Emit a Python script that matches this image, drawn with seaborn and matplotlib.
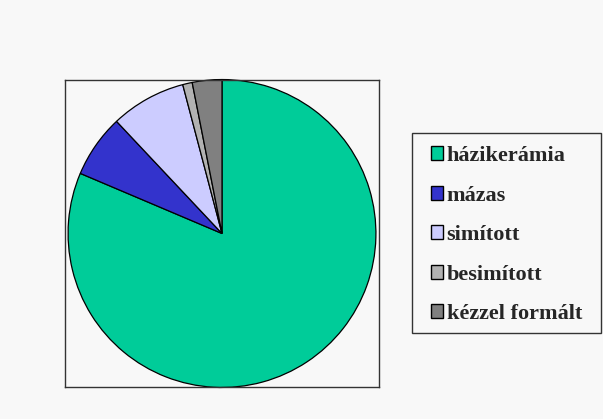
import matplotlib
matplotlib.use("Agg")
import matplotlib.pyplot as plt
from matplotlib.patches import Rectangle
import seaborn as sns

# Kerámia típusok megoszlása (%)
categories = ["házikerámia", "mázas", "simított", "besimított", "kézzel formált"]
shares = [81.3, 6.6, 7.9, 1.0, 3.1]
colors = ["#00CC99", "#3333CC", "#CCCCFF", "#B2B2B2", "#808080"]

sns.set_style("white")
plt.rcParams["font.family"] = ["Liberation Serif", "DejaVu Serif"]

W, H = 603, 419
fig = plt.figure(figsize=(W / 100, H / 100), dpi=100)
fig.patch.set_facecolor("#F8F8F8")

ax = fig.add_axes([65 / W, 1 - 387 / H, 314 / W, 307 / H])
ax.set_facecolor("#F8F8F8")

wedges, _ = ax.pie(
    shares,
    colors=colors,
    startangle=90,
    counterclock=False,
    radius=1.0,
    wedgeprops=dict(edgecolor="black", linewidth=0.9),
    frame=True,
)
ax.set_aspect("auto")
ax.set_xlim(-1.02, 1.02)
ax.set_ylim(-0.997, 0.997)
ax.set_xticks([])
ax.set_yticks([])
for sp in ax.spines.values():
    sp.set_visible(True)
    sp.set_color("#333333")
    sp.set_linewidth(1.0)

# legend frame
fig.patches.append(
    Rectangle((412 / W, 1 - 333 / H), 189 / W, 200 / H,
              transform=fig.transFigure, facecolor="none",
              edgecolor="#333333", linewidth=1.0, zorder=5)
)

leg = fig.legend(
    wedges,
    categories,
    loc="upper left",
    bbox_to_anchor=(431 / W, 1 - 146 / H),
    bbox_transform=fig.transFigure,
    frameon=False,
    handlelength=0.55,
    handleheight=0.6,
    handletextpad=0.15,
    labelspacing=0.88,
    borderpad=0.0,
    borderaxespad=0,
    prop=dict(size=16, weight="bold"),
)
for h in leg.legend_handles:
    h.set_edgecolor("black")
    h.set_linewidth(1.0)

fig.savefig("out.png", dpi=100, facecolor=fig.get_facecolor())
